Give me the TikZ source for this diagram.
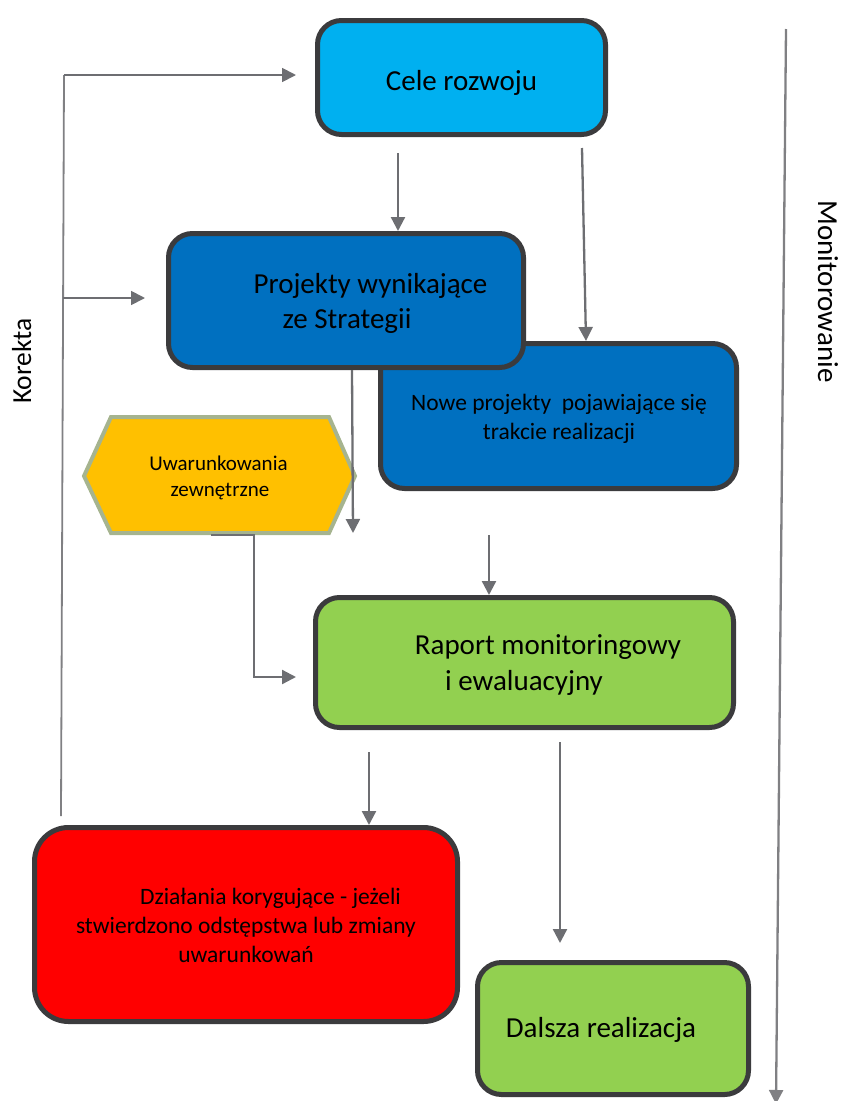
\documentclass[tikz,border=0pt]{standalone}
\usepackage{fontspec}
\setmainfont{Carlito}
\usetikzlibrary{arrows.meta,calc}
\definecolor{bord}{HTML}{3B3B3D}
\definecolor{cyanf}{HTML}{00B0F0}
\definecolor{bluef}{HTML}{0070C0}
\definecolor{greenf}{HTML}{92D050}
\definecolor{redf}{HTML}{FF0000}
\definecolor{yellowf}{HTML}{FFC000}
\definecolor{hexb}{HTML}{A6B48F}
\definecolor{arrc}{HTML}{6D6E72}
\definecolor{korc}{HTML}{808083}
\begin{document}
\begin{tikzpicture}[x=1pt,y=-1pt,
  box/.style={draw=bord, line width=5pt, rounded corners=24pt, inner sep=0pt},
  big/.style={anchor=base, inner sep=0pt, font=\fontsize{29}{35}\selectfont},
  mid/.style={anchor=base, inner sep=0pt, font=\fontsize{23.5}{29}\selectfont},
  sml/.style={anchor=base, inner sep=0pt, font=\fontsize{21}{26}\selectfont},
  arr/.style={draw=arrc, line width=2.3pt, -{Triangle[length=14pt,width=14pt]}},
  kor/.style={draw=korc, line width=1.8pt},
  korarr/.style={kor, -{Triangle[length=14pt,width=14pt]}, arrc}
]
\useasboundingbox (0,0) rectangle (841,1101);

% boxes
\node[box, fill=cyanf, minimum width=288pt, minimum height=114pt] (cele) at (461.5,77.5) {};
\node[box, fill=bluef, minimum width=356pt, minimum height=145pt] (nowe) at (558.5,416) {};
\node[box, fill=bluef, minimum width=355pt, minimum height=134pt] (proj) at (346,300.5) {};
\node[box, fill=greenf, minimum width=418pt, minimum height=130pt] (rap) at (524.5,662.5) {};
\node[box, fill=redf, rounded corners=34pt, minimum width=423pt, minimum height=194pt] (red) at (246,924.5) {};
\node[box, fill=greenf, minimum width=271pt, minimum height=132pt] (dal) at (613,1028.5) {};

% hexagon
\draw[draw=hexb, fill=yellowf, line width=4pt] (84,476) -- (111,417) -- (329,417) -- (355,476) -- (329,533) -- (111,533) -- cycle;
\coordinate (hexbot) at (211,535);

% texts
\node[big] (t1) at (461.5,90) {Cele rozwoju};
\node[big] (t2a) at (370.5,293) {Projekty wynikające};
\node[big] (t2b) at (347,328) {ze Strategii};
\node[mid] (t3a) at (559,410) {Nowe projekty\ \ pojawiające się};
\node[mid] (t3b) at (559,439) {trakcie realizacji};
\node[sml] (t4a) at (218.5,470) {Uwarunkowania};
\node[sml] (t4b) at (220,496) {zewnętrzne};
\node[big] (t5a) at (548,654) {Raport monitoringowy};
\node[big] (t5b) at (524,690) {i ewaluacyjny};
\node[mid] (t6a) at (270.5,904) {Działania korygujące - jeżeli};
\node[mid] (t6b) at (246,933) {stwierdzono odstępstwa lub zmiany};
\node[mid] (t6c) at (246,962) {uwarunkowań};
\node[big] (t7) at (601,1037) {Dalsza realizacja};
\node[big, font=\fontsize{27.5}{33}\selectfont, rotate=90] (korekta) at (31,361) {Korekta};
\node[big, rotate=-90] (monit) at (818,291.5) {Monitorowanie};

% connectors
\coordinate (pend) at (353,533);
\draw[arr] ($(cele.south)+(-63.5,16)$) -- ($(proj.north)+(52,0)$);
\draw[arr] ($(cele.south)+(120.5,11)$) -- ($(nowe.north)+(27.5,0)$);
\draw[arr] ($(proj.south)+(6,0)$) -- (pend);
\draw[arr] ($(nowe.south)+(-69.5,44)$) -- ($(rap.north)+(-35.5,0)$);
\draw[arr] (hexbot) -- (254,535) -- (254,677) -- ($(rap.west)+(-17,14.5)$);
\draw[arr] ($(rap.south)+(-155.5,22)$) -- ($(red.north)+(123,0)$);
\draw[arr] ($(rap.south)+(35.5,12)$) -- ($(dal.north)+(-53,-17)$);

% korekta
\coordinate (kb) at ($(red.north west)+(29,-9)$);
\coordinate (kt) at (64,75);
\coordinate (km) at (63,298);
\draw[kor] (kb) -- (kt);
\draw[korarr] (kt) -- ($(cele.west)+(-19,-2.5)$);
\draw[korarr] (km) -- ($(proj.west)+(-21,-2.5)$);

% monitorowanie
\coordinate (mt) at (786,29);
\coordinate (mb) at (776,1104);
\draw[arr, draw=korc] (mt) -- (mb);
\end{tikzpicture}
\end{document}
